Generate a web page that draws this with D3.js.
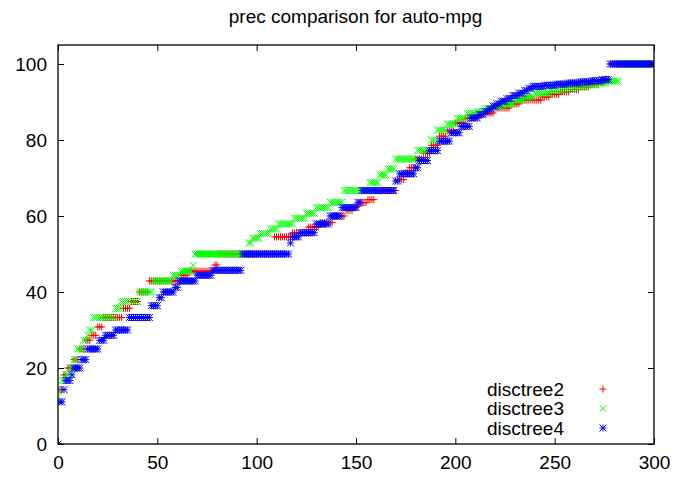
<!DOCTYPE html>
<html>
<head>
<meta charset="utf-8">
<script src="https://cdn.jsdelivr.net/npm/d3@7"></script>
<style>
  html, body { margin: 0; padding: 0; background: #fff; }
  svg { display: block; font-family: "Liberation Sans", Arial, sans-serif; }
</style>
</head>
<body>
<svg id="chart" width="691" height="477"></svg>
<script>
// Sorted precision values per classifier, stored as [value, count] runs
// (count = number of consecutive ranks sharing that value).
const disctree2Runs = [
  [0,1],[14.3,2],[18.2,2],[20,3],[22.2,3],[25,3],[27.3,3],[28.6,3],[30.8,3],
  [33.3,10],[35.7,4],[37.5,4],[40,5],[42.9,16],[44.4,4],[45.5,13],[47.1,2],
  [50,28],[54.5,9],[55.6,8],[57.1,6],[58.3,7],[60,6],[61.5,4],[62.5,3],
  [63.5,4],[64.3,4],[66.7,11],[69.6,4],[71.4,2],[72.7,3],[75,4],[76.5,4],
  [78.6,4],[81,4],[82.4,4],[84.5,5],[85.7,4],[86.4,5],[87.1,6],[88.4,8],
  [89.5,5],[90.5,11],[91.3,4],[92,5],[92.7,5],[93.3,5],[94,5],[94.7,5],
  [95.3,3],[95.7,2],[100,23]
];
const disctree3Runs = [
  [12.5,1],[14.3,1],[16.7,2],[18.2,2],[20,2],[22.2,2],[25,3],[27.3,2],[28.6,1],
  [30,2],[33.3,11],[35.7,3],[37.5,9],[40,7],[42.9,10],[44.4,4],[45.5,6],[47,1],
  [50,27],[52.9,2],[54.2,4],[55.4,5],[56.6,4],[57.9,8],[59.4,6],[60.7,5],
  [62.2,7],[63.6,7],[66.7,13],[68.8,5],[70.8,4],[72.4,4],[75,11],[77.3,7],
  [80,3],[82.6,5],[84.2,5],[85.7,5],[87,5],[87.5,4],[88.2,4],[88.9,6],
  [89.5,5],[90.5,5],[91.3,5],[92.3,8],[93,6],[93.5,6],[94,6],[94.5,6],
  [95,5],[95.5,6],[100,18]
];
const disctree4Runs = [
  [0,1],[11.1,2],[14.3,1],[16.7,3],[18.2,1],[20,4],[22.2,3],[25,6],[27.3,3],
  [28.6,5],[30,7],[33.3,11],[36.4,4],[38.5,2],[40,6],[41.2,2],[42.9,9],
  [44.4,8],[45.7,15],[50,24],[52.9,1],[54.5,4],[55.6,8],[57.9,7],[60,6],
  [62.2,8],[63.6,2],[66.7,17],[69.2,2],[71.1,8],[72.7,2],[74.6,5],[77.2,5],
  [79.7,6],[81.9,5],[83.6,5],[85.8,4],[86.7,3],[87.5,2],[88.2,2],[88.9,2],
  [89.5,2],[90.2,3],[90.9,3],[91.7,3],[92.3,3],[93,2],[93.6,2],[94.1,6],
  [94.4,6],[94.7,6],[95,6],[95.3,6],[95.6,5],[95.9,4],[100,23]
];

const seriesNames = ["disctree2", "disctree3", "disctree4"];
const seriesColors = ["#ff0000", "#00ff00", "#0000ff"];
const xTicks = [0, 50, 100, 150, 200, 250, 300];
const yTicks = [0, 20, 40, 60, 80, 100];
const chartTitle = "prec comparison for auto-mpg";

// expand runs into (rank, value) points
function expand(runs) {
  const pts = [];
  let i = 0;
  runs.forEach(([v, n]) => { for (let k = 0; k < n; k++) pts.push({ x: i++, y: v }); });
  return pts;
}
const series = [disctree2Runs, disctree3Runs, disctree4Runs].map(expand);

const svg = d3.select("#chart");
const plotLeft = 58, plotRight = 654, plotTop = 45, plotBottom = 444;
const x = d3.scaleLinear().domain([0, 300]).range([plotLeft, plotRight]);
const y = d3.scaleLinear().domain([0, 105]).range([plotBottom, plotTop]);

// title
svg.append("text")
  .attr("x", 355.5).attr("y", 23)
  .attr("text-anchor", "middle")
  .attr("font-size", 19)
  .attr("fill", "#000")
  .text(chartTitle);

// point glyphs: +, x, and * (both overlaid)
const s = 3.5;
const glyphs = [
  `M${-s},0H${s}M0,${-s}V${s}`,
  `M${-s},${-s}L${s},${s}M${-s},${s}L${s},${-s}`,
  `M${-s},0H${s}M0,${-s}V${s}M${-s},${-s}L${s},${s}M${-s},${s}L${s},${-s}`
];

svg.append("defs").append("clipPath").attr("id", "plotClip")
  .append("rect").attr("x", plotLeft).attr("y", plotTop)
  .attr("width", plotRight - plotLeft).attr("height", plotBottom - plotTop);

const plot = svg.append("g").attr("clip-path", "url(#plotClip)");
series.forEach((pts, si) => {
  plot.append("g")
    .selectAll("path")
    .data(pts)
    .join("path")
    .attr("transform", d => `translate(${x(d.x)},${y(d.y)})`)
    .attr("d", glyphs[si])
    .attr("fill", "none")
    .attr("stroke", seriesColors[si])
    .attr("stroke-width", 1);
});

// axes with inward ticks on all four sides
function styleAxis(g) {
  g.select(".domain").remove();
  g.selectAll(".tick line").attr("stroke", "#000").attr("stroke-width", 1);
  g.selectAll("text").attr("font-size", 19).attr("fill", "#000")
    .attr("font-family", '"Liberation Sans", Arial, sans-serif');
}
svg.append("g").attr("transform", `translate(0,${plotBottom})`)
  .call(d3.axisBottom(x).tickValues(xTicks).tickSizeInner(-6).tickSizeOuter(0).tickPadding(12))
  .call(styleAxis);
svg.append("g").attr("transform", `translate(0,${plotTop})`)
  .call(d3.axisTop(x).tickValues(xTicks).tickSizeInner(-6).tickSizeOuter(0).tickFormat(""))
  .call(styleAxis);
svg.append("g").attr("transform", `translate(${plotLeft},0)`)
  .call(d3.axisLeft(y).tickValues(yTicks).tickSizeInner(-6).tickSizeOuter(0).tickPadding(11))
  .call(styleAxis);
svg.append("g").attr("transform", `translate(${plotRight},0)`)
  .call(d3.axisRight(y).tickValues(yTicks).tickSizeInner(-6).tickSizeOuter(0).tickFormat(""))
  .call(styleAxis);

// frame
svg.append("rect")
  .attr("x", plotLeft).attr("y", plotTop)
  .attr("width", plotRight - plotLeft).attr("height", plotBottom - plotTop)
  .attr("fill", "none").attr("stroke", "#000").attr("stroke-width", 1.3);

// legend
const legend = svg.append("g");
seriesNames.forEach((name, i) => {
  const ly = 389 + i * 19.5;
  legend.append("text")
    .attr("x", 564).attr("y", ly + 6.5)
    .attr("text-anchor", "end")
    .attr("font-size", 19).attr("fill", "#000")
    .text(name);
  legend.append("path")
    .attr("transform", `translate(603,${ly})`)
    .attr("d", glyphs[i])
    .attr("fill", "none")
    .attr("stroke", seriesColors[i])
    .attr("stroke-width", 1);
});
</script>
</body>
</html>
